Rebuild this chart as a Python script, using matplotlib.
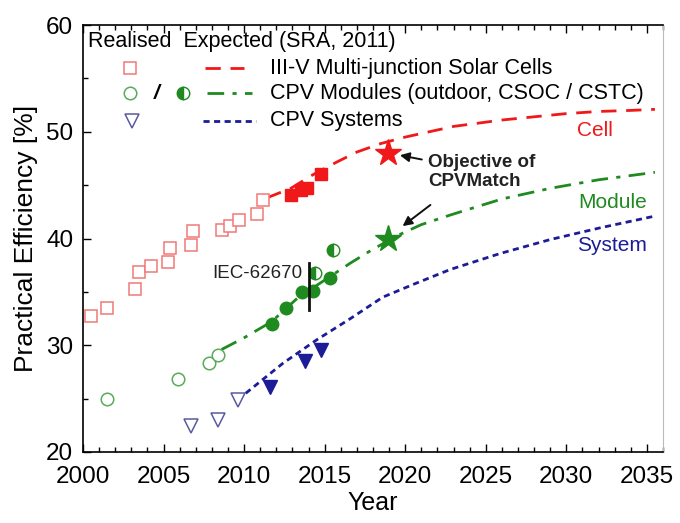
import matplotlib
matplotlib.use('Agg')
import matplotlib.pyplot as plt
import matplotlib.ticker as tck

plt.rcParams['font.family'] = ['Liberation Sans', 'DejaVu Sans']

# Realised values
cell_open_x = [2000.5, 2001.5, 2003.2, 2003.5, 2004.2, 2005.3, 2005.4, 2006.7, 2006.8, 2008.6, 2009.1, 2009.7, 2010.8, 2011.2]
cell_open_y = [32.7, 33.5, 35.3, 36.9, 37.4, 37.8, 39.1, 39.4, 40.7, 40.8, 41.2, 41.7, 42.3, 43.6]
cell_fill_x = [2012.9, 2013.5, 2013.9, 2014.8]
cell_fill_y = [44.1, 44.5, 44.7, 46.0]

module_open_x = [2001.5, 2005.9, 2007.8, 2008.4]
module_open_y = [25.0, 26.8, 28.3, 29.1]
module_fill_x = [2011.7, 2012.6, 2013.6, 2014.3, 2015.3]
module_fill_y = [32.0, 33.5, 35.0, 35.1, 36.3]
module_half_x = [2014.4, 2015.5]
module_half_y = [36.8, 38.9]

system_open_x = [2006.7, 2008.4, 2009.6]
system_open_y = [22.4, 23.0, 24.9]
system_fill_x = [2011.6, 2013.8, 2014.8]
system_fill_y = [26.1, 28.5, 29.6]

# Expected (SRA, 2011)
cell_exp_x = [2011.4, 2012.9, 2014.3, 2015.8, 2017.0, 2018.5, 2020.0, 2021.5, 2023.0, 2024.5, 2026.0, 2028.0, 2030.0, 2032.0, 2034.0, 2035.5]
cell_exp_y = [43.8, 44.7, 46.0, 47.2, 48.1, 48.9, 49.5, 50.0, 50.5, 50.8, 51.1, 51.4, 51.7, 51.9, 52.0, 52.1]
module_exp_x = [2008.6, 2010.0, 2011.7, 2013.3, 2015.0, 2016.6, 2018.0, 2019.7, 2021.0, 2022.8, 2024.5, 2026.0, 2029.0, 2032.0, 2035.5]
module_exp_y = [29.6, 30.7, 32.2, 34.4, 36.1, 37.7, 39.0, 40.4, 41.3, 42.2, 43.0, 43.7, 44.7, 45.5, 46.2]
system_exp_x = [2010.1, 2011.0, 2012.4, 2014.5, 2016.6, 2018.6, 2020.5, 2022.8, 2025.9, 2029.0, 2032.1, 2035.5]
system_exp_y = [25.5, 26.6, 28.3, 30.5, 32.5, 34.5, 35.7, 37.1, 38.6, 39.9, 41.0, 42.1]

# CPVMatch objectives
star_x = [2018.9, 2018.9]
star_y = [48.0, 40.0]

red, red_l = '#f01818', '#f07878'
green, green_l = '#1f8a1f', '#5aaa5a'
blue, blue_l = '#1c1c96', '#5a5a9e'

fig = plt.figure(figsize=(6.8, 5.23), dpi=100)
ax = fig.add_axes([83/680, 1 - 452/523, 580/680, 427/523])

ax.plot(cell_exp_x, cell_exp_y, color=red, lw=2, dashes=(5.5, 3.5))
ax.plot(module_exp_x, module_exp_y, color=green, lw=2, dashes=(6, 3, 1.5, 3))
ax.plot(system_exp_x, system_exp_y, color=blue, lw=2, dashes=(2.2, 1.6))

ax.plot(cell_open_x, cell_open_y, 's', ms=8.5, mfc='white', mec=red_l, mew=1.1, ls='none')
ax.plot(cell_fill_x, cell_fill_y, 's', ms=8.5, color=red, ls='none')
ax.plot(module_open_x, module_open_y, 'o', ms=9, mfc='white', mec=green_l, mew=1.1, ls='none')
ax.plot(module_fill_x, module_fill_y, 'o', ms=9, color=green, ls='none')
ax.plot(module_half_x, module_half_y, 'o', ms=9, mfc=green, mfcalt='white', fillstyle='left',
        mec=green, mew=1, ls='none')
ax.plot(system_open_x, system_open_y, 'v', ms=10.5, mfc='white', mec=blue_l, mew=1.1, ls='none')
ax.plot(system_fill_x, system_fill_y, 'v', ms=10.5, color=blue, ls='none')

ax.plot(star_x[:1], star_y[:1], '*', ms=20, color=red, ls='none')
ax.plot(star_x[1:], star_y[1:], '*', ms=20, color=green, ls='none')

# annotations
ax.text(2021.4, 46.2, 'Objective of\nCPVMatch', fontsize=13.5, fontweight='bold', color='#222222',
        ha='left', va='center', linespacing=1.15)
ax.annotate('', xy=(2019.5, 47.85), xytext=(2021.2, 47.35),
            arrowprops=dict(arrowstyle='-|>', color='#111111', lw=1.4, mutation_scale=14))
ax.annotate('', xy=(2019.7, 41.0), xytext=(2021.7, 43.3),
            arrowprops=dict(arrowstyle='-|>', color='#111111', lw=1.4, mutation_scale=14))
ax.plot([2014.0, 2014.0], [33.3, 37.7], color='#111111', lw=2)
ax.text(2013.6, 36.75, 'IEC-62670', fontsize=13.5, color='#222222', ha='right', va='center')

ax.text(2032.9, 50.1, 'Cell', fontsize=15, color=red, ha='right', va='center')
ax.text(2035.0, 43.4, 'Module', fontsize=15, color=green, ha='right', va='center')
ax.text(2035.0, 39.3, 'System', fontsize=15, color=blue, ha='right', va='center')

# legend drawn by hand in axes coordinates
tr = ax.transAxes
ax.text(0.009, 0.961, 'Realised  Expected (SRA, 2011)', transform=tr, fontsize=15.5, va='center', ha='left')
rows = [0.899, 0.840, 0.776]
ax.plot([0.081], [rows[0]], 's', transform=tr, ms=8.5, mfc='white', mec=red_l, mew=1.1)
ax.plot([0.081], [rows[1]], 'o', transform=tr, ms=9, mfc='white', mec=green_l, mew=1.1)
ax.text(0.127, rows[1], '/', transform=tr, fontsize=15, ha='center', va='center', style='italic',
        fontweight='bold')
ax.plot([0.173], [rows[1]], 'o', transform=tr, ms=9, mfc=green, mfcalt='white', fillstyle='left', mec=green, mew=1)
ax.plot([0.084], [rows[2]], 'v', transform=tr, ms=10.5, mfc='white', mec=blue_l, mew=1.1)
ax.plot([0.210, 0.278], [rows[0]] * 2, transform=tr, color=red, lw=2, dashes=(5.5, 3.5))
ax.plot([0.213, 0.291], [rows[1]] * 2, transform=tr, color=green, lw=2, dashes=(6, 3, 1.5, 3))
ax.plot([0.207, 0.299], [rows[2]] * 2, transform=tr, color=blue, lw=2, dashes=(2.2, 1.6))
labels = ['III-V Multi-junction Solar Cells', 'CPV Modules (outdoor, CSOC / CSTC)', 'CPV Systems']
for r, lab in zip(rows, labels):
    ax.text(0.322, r, lab, transform=tr, fontsize=15.5, va='center', ha='left')

ax.set_xlim(2000, 2036)
ax.set_ylim(20, 60)
ax.xaxis.set_major_locator(tck.MultipleLocator(5))
ax.xaxis.set_minor_locator(tck.MultipleLocator(1))
ax.yaxis.set_major_locator(tck.MultipleLocator(10))
ax.yaxis.set_minor_locator(tck.MultipleLocator(5))
ax.tick_params(which='both', direction='in', top=True, right=False, width=1)
ax.tick_params(which='major', length=6, labelsize=17.5)
ax.tick_params(axis='x', which='major', pad=10)
ax.tick_params(axis='y', which='major', pad=7)
ax.tick_params(which='minor', length=3.5)
ax.spines['right'].set_color('#bbbbbb')
for s in ['left', 'bottom', 'top']:
    ax.spines[s].set_linewidth(1.2)
ax.set_xlabel('Year', fontsize=18, labelpad=2)
ax.set_ylabel('Practical Efficiency [%]', fontsize=19, labelpad=6)

fig.savefig('out.png', dpi=100)
